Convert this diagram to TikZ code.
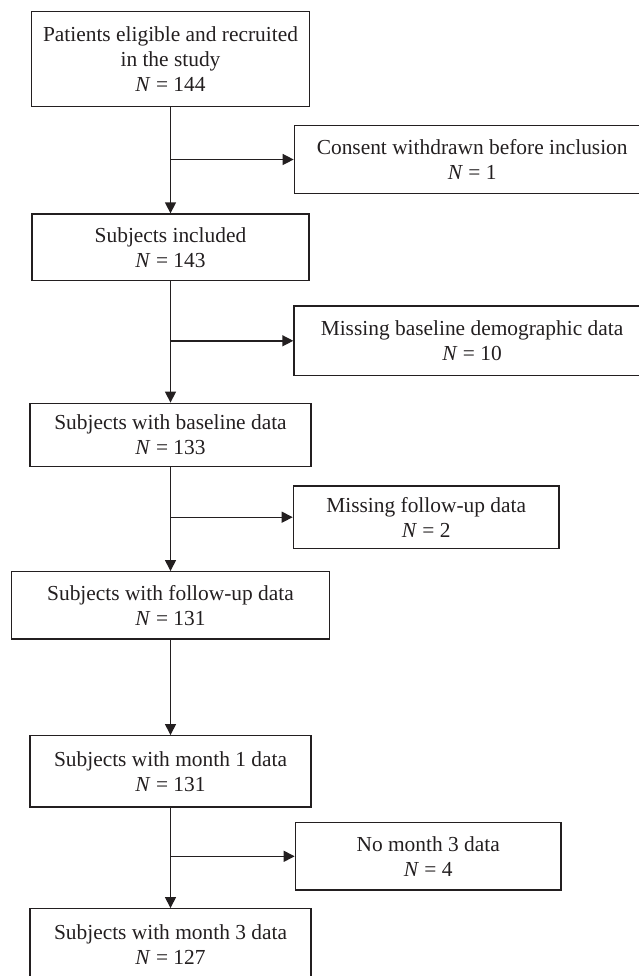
\documentclass[tikz,border=0pt]{standalone}
\usepackage{fontspec}
\setmainfont{Liberation Serif}
\usetikzlibrary{arrows.meta}
\definecolor{linec}{RGB}{35,31,32}
\definecolor{txtc}{RGB}{35,31,32}
\begin{document}
\begin{tikzpicture}[x=1pt,y=-1pt,
  box/.style={draw=linec, line width=1.4pt, align=center, inner sep=0pt, text=txtc,
    font=\fontsize{21.4}{25}\selectfont},
  arr/.style={draw=linec, line width=1.4pt, -{Triangle[length=11pt,width=11pt]}}]
\useasboundingbox (0,0) rectangle (639,976);
\clip (0,0) rectangle (639,976);
\node[box, minimum width=277.6pt, minimum height=95pt] (b1) at (170.5,59.2)
  {Patients eligible and recruited\\in the study\\\textit{N} = 144};
\node[box, minimum width=355.7pt, minimum height=67.6pt] (c1) at (472.2,159.5)
  {Consent withdrawn before inclusion\\\textit{N} = 1};
\node[box, minimum width=277pt, minimum height=66.7pt] (b2) at (170.5,247.4)
  {Subjects included\\\textit{N} = 143};
\node[box, minimum width=356pt, minimum height=69.5pt] (c2) at (472,340.8)
  {Missing baseline demographic data\\\textit{N} = 10};
\node[box, minimum width=281.2pt, minimum height=63.4pt] (b3) at (170.5,435)
  {Subjects with baseline data\\\textit{N} = 133};
\node[box, minimum width=265.6pt, minimum height=62.3pt] (c3) at (426.2,517.2)
  {Missing follow-up data\\\textit{N} = 2};
\node[box, minimum width=317.6pt, minimum height=67.3pt] (b4) at (170.5,605.4)
  {Subjects with follow-up data\\\textit{N} = 131};
\node[box, minimum width=281pt, minimum height=71.3pt] (b5) at (170.5,771.4)
  {Subjects with month 1 data\\\textit{N} = 131};
\node[box, minimum width=265.7pt, minimum height=67.5pt] (c4) at (428.2,856.3)
  {No month 3 data\\\textit{N} = 4};
\node[box, minimum width=280.8pt, minimum height=71.3pt] (b6) at (170.5,944.4)
  {Subjects with month 3 data\\\textit{N} = 127};
% trunk
\draw[arr] (b1.south) -- (b2.north);
\draw[arr] (b2.south) -- (b3.north);
\draw[arr] (b3.south) -- (b4.north);
\draw[arr] (b4.south) -- (b5.north);
\draw[arr] (b5.south) -- (b6.north);
% branches
\draw[arr] (c1.west -| b1.south) -- (c1.west);
\draw[arr] (c2.west -| b2.south) -- (c2.west);
\draw[arr] (c3.west -| b3.south) -- (c3.west);
\draw[arr] (c4.west -| b5.south) -- (c4.west);
\end{tikzpicture}
\end{document}
